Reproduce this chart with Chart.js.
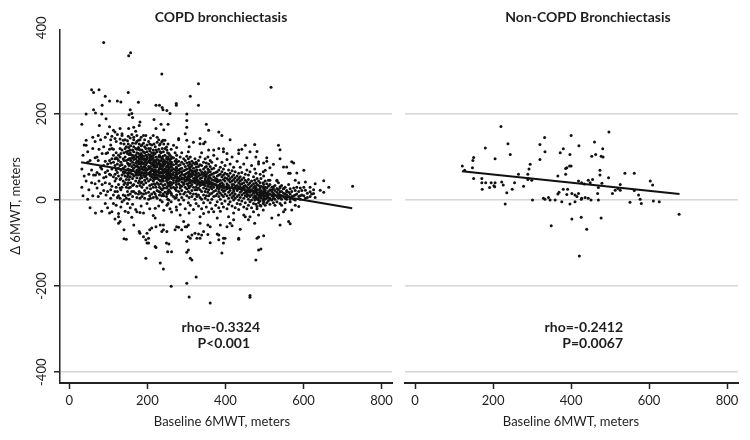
<!DOCTYPE html>
<html><head><meta charset="utf-8">
<script src="https://cdn.jsdelivr.net/npm/chart.js@4.4.0/dist/chart.umd.min.js"></script>
<style>
html,body{margin:0;padding:0;background:#fff;}
#wrap{position:relative;width:750px;height:440px;overflow:hidden;}
#c1{position:absolute;left:0;top:0;width:400px;height:440px;}
#c2{position:absolute;left:395px;top:0;width:355px;height:440px;}
</style></head><body>
<div id="wrap"><canvas id="c1" width="400" height="440"></canvas><canvas id="c2" width="355" height="440"></canvas></div>
<script>
// ---------- data ----------
const xTickValues = [0, 200, 400, 600, 800];
const yGridValues = [-400, -200, 0, 200];
const yTickLabels = [400, 200, 0, -200, -400];
const panelTitles = ['COPD bronchiectasis', 'Non-COPD Bronchiectasis'];
const xAxisTitle = 'Baseline 6MWT, meters';
const yAxisTitle = '\u0394 6MWT, meters';
const copdStats = ['rho=-0.3324', 'P<0.001'];
const nonStats = ['rho=-0.2412', 'P=0.0067'];

// COPD bronchiectasis: baseline 6MWT (x) columns and the change values (y) at each
const copdX = [32,35,38,43,47,50,53,57,60,62,66,67,71,74,76,77,80,83,84,88,92,94,98,103,106,109,113,117,120,123,126,130,132,135,138,140,143,146,149,151,152,153,156,157,160,162,165,170,173,177,179,181,184,186,190,193,196,199,203,206,208,211,215,217,220,222,225,229,231,233,235,237,238,240,241,242,245,249,250,252,253,255,258,261,262,267,271,274,275,280,284,288,293,297,301,305,307,310,314,318,322,325,327,331,335,339,344,348,351,355,357,361,365,370,375,379,383,387,391,395,399,404,408,412,417,421,425,430,434,438,442,447,451,455,459,463,467,472,475,478,481,485,489,491,497,498,502,506,510,514,517,519,523,527,532,536,540,544,549,553,557,562,566,570,575,579,583,588,592,596,601,605,610,617,621,626,630,643,652,665,726];
const copdY = [
[176,72,30],[104,10],[56,128],[200,139,127,44],[88,2,112],
[60,24],[-18,92],[256,40,70],[146,10,120],[250,210,58],
[38,98,136],[202,58,-30],[64,100,28],[92,8,150],[256,44,118],
[173,60],[140,16,76],[200,72,-26],[220,108,36],[366,80,22,124,52],
[241,146,64,90,-8,40],[189,54,108,12],[154,84,110,20,-18,68],
[230,170,38,92,118,-30,60],[128,86,58,24,140,4],[96,120,32,148,-27,72],
[162,12,88,54,118,-8,104],[143,96,60,80,20,-44,44,158],[110,70,136,30,50,-12,98],
[230,152,96,64,84,20,6],[-31,-54,-39,104,74,56,92,36,10],[166,120,80,100,142,28,-50,48,4],
[228,132,70,108,50,24,-16,88],[154,58,150,-4,30,82,116],[139,96,74,44,66,12],[-69,-90,110,62,92,36,130,0],
[140,100,78,56,120,40,-26,10,66],[-91,124,70,92,48,30,4,112],[108,62,138,86,20,54,-8,36],
[250,94,130,72,40,114,58,12,84,148,-29],[335,166,64,28,122],[198,80,106,48,96,2],[210,70,144,54,116,30,84,-18,110,14,96],
[342,126,92,62,106,40],[201,78,152,20,98,-40,68],[192,70,104,50,88,132,8,116,34,60,-10],
[169,146,94,74,112,56,36,100,124,82,20,140,-58],[120,86,64,104,160,44,78,16,96,132,-22,58],
[-27,118,90,70,52,136,100,32,80,6,150,62,110],[227,139,92,76,108,58,122,40,14,86,68,100],[173,-73,84,62,118,44,96,130,20,74],
[181,-29,-77,88,104,70,50,116,34,140,4,60],[126,94,78,62,108,40,84,146,16,56,100,-14],[98,72,116,52,88,30,64,128,8,104,42],
[-85,112,76,94,58,132,36,70,102,14,84,-30,150],[88,110,62,78,124,46,96,22,140,70,4,54],[-135,-92,104,82,66,120,40,92,56,150,16,74],
[-77,-100,96,70,112,50,86,128,28,60,100,-8],[-100,-89,78,106,62,90,44,120,18,72,136,2],[-69,100,74,58,114,88,34,130,64,10,96,-20],
[86,66,104,48,120,78,26,92,56,144,4],[-65,94,72,110,54,84,36,128,68,14,100],[80,60,98,44,116,70,30,88,6,104,52,-36,150],
[187,76,92,58,110,38,130,66,18,84,48],[-108,-19,-42,92,70,54,108,36,80,124,14,62],[166,220,-110,-62,88,68,100,50,116,30,76,8],
[146,78,94,58,112,40,84,22,66,134,4,52],[70,100,56,86,36,118,64,20,92,48,140,-14],[220,90,74,104,56,30,82,128,12,62],
[-146,-58,84,64,100,44,76,18,112,56,0,131],[176,72,92,54,110,38,80,26,64],[293,-73,136,48,98,10],[215,82,62,96,44,120,72,24,54,-4],
[210,139,88,68,102,50,34,78,14],[-160,-58,-69,94,62,80,44,112,70],[163,28,56,86,10,130,-24],[139,72,90,52,104,36,66,18,84,120],
[-100,60,78,44,96,28,70,8,52,123],[208,-73,88,64,48,100,30,76,14,58,116,-12],[-120,80,62,94,40,68,20,52,2,110],
[176,70,86,48,100,34,60,16,78,-8,130],[-102,66,84,50,38,96,72,24,56,0,108],[201,76,58,90,42,62,20,104,32,-20],
[-200,80,54,96,40,68,16,84,28,118,-4,60],[-120,70,88,50,36,76,12,60,100,-28],[64,82,46,98,30,58,8,72,40,127],
[-69,90,54,70,26,110,4],[224,220,76,58,42,94,22,64,84,6,36,-16],[-23,-62,88,60,74,46,104,30,54,12,68,122],
[143,-63,70,52,90,38,62,20,80,0,44,140],[-35,82,56,66,34,100,48,14,72,-10,28],[-69,74,60,88,42,52,22,110,6,66,32],
[-50,68,50,84,36,58,14,96,0,40],[-62,60,78,44,30,92,18,54,70,-20,154],[200,185,169,139,-121,-96,-62,-193,72,52,86,38,62,10,102,26,46],
[-58,-85,-116,64,80,48,34,96,20,56,-6,112],[-225,58,74,40,88,28,52,6,66,124,-30],[241,-135,-89,84,60,70,46,100,32,54,16,76,-12,40],
[-139,-81,56,68,44,90,22,62,36,8,80],[134,60,50,74,30,86,42,14,66,-22],[-77,68,52,84,40,96,24,58,2,46],
[-179,60,76,44,30,88,14,52,-8,66],[-89,54,70,36,24,84,48,8],[270,220,-79,62,44,78,28,56,12,92,38,-14],
[143,131,-89,-54,-39,58,70,40,24,82,50,6,34,100],[-81,66,52,80,36,20,60,2,44,110,-20],[131,-73,-31,56,72,42,28,88,12,62,-6,36],
[135,50,66,34,20,76,46,4,58,96],[176,60,42,78,26,54,10,-16,86],[-58,-80,48,64,32,18,72,40,0,100],[162,56,44,70,24,36,84,10,-28,50,116],
[-239,-62,-99,52,66,30,42,14,78,-6,58,92],[40,60,26,48,16,72,2,34,-20,88],[116,-27,46,62,30,54,20,74,8,38,104],[36,50,22,64,10,44,-12,80],
[-79,-42,42,56,28,66,14,48,-4,32,96],[158,-81,-92,34,58,20,44,8,70,-18,26,120],[-58,46,30,60,16,38,2,76,-26],[150,-123,40,54,24,12,66,32,-8,88],
[119,-89,-100,36,48,20,58,8,28,72,-16,112],[-89,44,30,52,14,62,22,-2,80],[108,-62,38,50,26,10,60,32,-20,94],[-39,34,46,18,56,4,28,70,-10],
[140,-54,42,28,50,12,62,22,-4,84],[-60,30,44,16,54,6,36,68,-14,100],[-46,36,24,48,10,58,20,0,76,-30],[28,42,14,52,32,4,66,-18],
[34,22,46,8,56,26,-8,90],[116,-89,-91,26,40,12,50,30,0,62,-22,108],[-68,30,18,44,6,36,54,-10,76],[22,38,12,48,28,-2,64,118],
[-35,28,16,40,4,32,52,-16,84],[127,-39,24,34,10,46,18,-6,60],[20,30,8,42,14,70,-20,98],[-46,26,12,36,2,48,20,-12,58],
[-222,-226,-39,18,30,8,40,22,-4,66,112],[24,12,34,0,44,-18,80],[-27,16,28,6,38,20,-8,54],[129,-54,22,10,32,0,46,72],
[-139,8,18,30,4,40,-10,26,62,100],[113,-89,-15,14,24,2,36,-20,50],[89,-86,-116,-35,0,12,24,6,34,-6,44,84],[-12,18,8,28,-2,40,14,60],
[-114,15,4,22,32,-14,10,50],[-23,12,20,0,30,-8,40,66],[86,-83,4,16,26,-4,36,8,56],[69,-12,23,10,2,18,30,44],[98,15,8,16,28,-6,4,38,90],
[20,6,32,-2,12,46],[75,4,46,14,2,24,-10,36],[262],[23,-42,10,20,0,30,58],[83,8,31,16,4,26,-6],[-12,12,22,2,34],[46,27,8,18,-4,44],
[127,-35,14,4,24,40],[117,31,-58,96,19,6,28,-8,12],[-12,10,20,2,34],[77,27,-27,8,16,26],[-22,4,14,30,-6],[19,77,12,22,2],[62,-50,8,18,36],
[62,-55,14,2,26,-4],[89,-23,8,20],[86,10,2,28],[46,-12,12,22,0],[63,14,30],[40,-15,8,20],[10,2,28],[12,22],[69,10,30],[42,23,4],[16,6],
[19,30,8],[14],[15,24],[38,6],[23],[45,18],[30],[32]
];

// Non-COPD bronchiectasis points [baseline 6MWT, change]
const nonPoints = [[220,171],[497,158],[400,150],[332,145],[320,129],[238,131],[180,121],[420,126],[460,135],[481,119],[380,119],[372,110],[333,112],[397,106],[453,102],[463,106],[477,102],[482,100],[244,106],[205,96],[320,94],[295,83],[150,99],[148,92],[121,79],[127,69],[147,75],[389,75],[386,73],[400,79],[396,79],[386,60],[366,56],[474,69],[538,62],[562,62],[265,60],[289,60],[289,48],[278,32],[255,40],[249,25],[235,17],[231,-9],[171,50],[150,50],[171,40],[181,40],[172,25],[191,29],[204,31],[222,42],[226,35],[301,0],[329,4],[333,2],[342,6],[346,0],[359,0],[366,14],[369,18],[376,-4],[380,25],[391,25],[389,13],[402,15],[410,12],[397,-9],[410,-4],[415,8],[419,15],[426,2],[419,44],[427,40],[434,37],[444,46],[427,4],[436,6],[444,4],[451,0],[449,40],[455,48],[468,15],[470,0],[470,29],[474,58],[479,39],[496,52],[506,15],[513,23],[520,27],[526,23],[526,36],[551,-5],[562,22],[573,12],[577,2],[580,-8],[603,44],[609,35],[611,-2],[626,-4],[677,-33],[195,40],[202,33],[205,40],[299,46],[290,50],[292,72],[402,-44],[426,-40],[477,-42],[349,-60],[440,-68],[421,-130]];

// fitted lines (endpoints)
const copdFitX = [30, 725], copdFitY = [88, -19];
const nonFitX = [120, 678], nonFitY = [67, 14];

// ---------- build ----------
const TXT = '#1e1e1e';
const FONT = 'Lato, "Open Sans", sans-serif';

function copdData() {
  const pts = [];
  copdX.forEach((x, i) => copdY[i].forEach(y => pts.push({x: x, y: y})));
  return pts;
}

const textPlugin = {
  id: 'panelText',
  afterDraw(chart, args, o) {
    const ctx = chart.ctx, ys = chart.scales.y;
    ctx.save();
    ctx.fillStyle = TXT;
    ctx.textBaseline = 'middle';
    ctx.textAlign = 'center';
    ctx.font = 'bold 14px ' + FONT;
    ctx.fillText(o.title, o.titleX, 17);
    ctx.font = '13px ' + FONT;
    ctx.fillText(xAxisTitle, o.xTitleX, 422);
    ctx.font = 'bold 14px ' + FONT;
    ctx.textAlign = 'right';
    ctx.fillText(o.stats[0], o.statsX[0], 327);
    ctx.fillText(o.stats[1], o.statsX[1], 343);
    if (o.yLabels) {
      ctx.font = '13px ' + FONT;
      ctx.textAlign = 'center';
      yTickLabels.forEach(v => {
        const y = ys.getPixelForValue(v);
        ctx.save(); ctx.translate(42, y); ctx.rotate(-Math.PI / 2);
        ctx.fillText(String(v), 0, 0); ctx.restore();
      });
      ctx.save(); ctx.translate(16, 206); ctx.rotate(-Math.PI / 2);
      ctx.fillText(yAxisTitle, 0, 0); ctx.restore();
    }
    ctx.restore();
  }
};

function makeChart(id, pts, fitX, fitY, xmin, xmax, isLeft, textOpts) {
  const fit = fitX.map((x, i) => ({x: x, y: fitY[i]}));
  return new Chart(document.getElementById(id), {
    type: 'scatter',
    data: {
      datasets: [
        {type: 'line', data: fit, borderColor: '#111', borderWidth: 2, pointRadius: 0, fill: false, order: 0},
        {data: pts, backgroundColor: '#111', borderWidth: 0, pointRadius: 1.5, pointHoverRadius: 1.5, order: 1}
      ]
    },
    options: {
      responsive: false, animation: false, events: [],
      layout: {padding: {left: 0, right: isLeft ? 8 : 12, top: 30, bottom: 0}},
      plugins: {legend: {display: false}, tooltip: {enabled: false}, title: {display: false}, panelText: textOpts},
      scales: {
        x: {
          type: 'linear', min: xmin, max: xmax,
          afterBuildTicks: s => { s.ticks = xTickValues.map(v => ({value: v})); },
          afterFit: s => { s.height = 57; },
          ticks: {font: {family: FONT, size: 13}, color: TXT, padding: 4, maxRotation: 0, minRotation: 0},
          grid: {display: true, drawOnChartArea: false, drawTicks: true, tickLength: 6, tickColor: '#222', tickWidth: 1.5},
          border: {display: true, color: '#222', width: 2}
        },
        y: {
          type: 'linear', min: -425, max: 395,
          afterBuildTicks: s => { s.ticks = yGridValues.map(v => ({value: v})); },
          afterFit: s => { s.width = isLeft ? 60 : 10; },
          ticks: {display: false},
          grid: {color: '#d6d6d6', lineWidth: 1.5, drawTicks: isLeft, tickLength: 6, tickColor: '#222', tickWidth: 1.5},
          border: {display: isLeft, color: '#222', width: 1.5}
        }
      }
    },
    plugins: [textPlugin]
  });
}

function draw() {
  makeChart('c1', copdData(), copdFitX, copdFitY, -24, 827, true,
    {title: panelTitles[0], titleX: 221, xTitleX: 222, stats: copdStats, statsX: [260, 250], yLabels: true});
  makeChart('c2', nonPoints.map(p => ({x: p[0], y: p[1]})), nonFitX, nonFitY, -26, 828, false,
    {title: panelTitles[1], titleX: 193, xTitleX: 176, stats: nonStats, statsX: [228, 228], yLabels: false});
}
Promise.all([document.fonts.load('13px Lato'), document.fonts.load('bold 14px Lato')]).then(draw, draw);
</script>
</body></html>
